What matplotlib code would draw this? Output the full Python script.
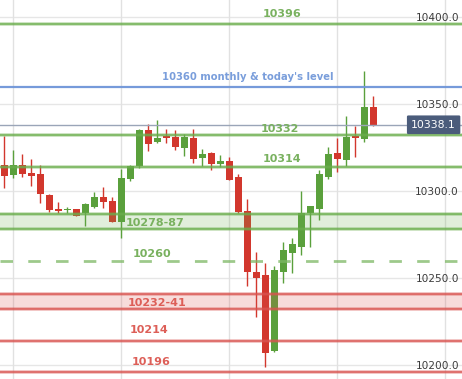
import matplotlib
matplotlib.use("Agg")
import matplotlib.pyplot as plt
from matplotlib.patches import Rectangle

# ---- data ----
opens  = [10314.9, 10309.2, 10314.9, 10310.5, 10309.8, 10297.7, 10289.8, 10288.9, 10289.7, 10287.2,
          10290.8, 10296.6, 10294.3, 10282.4, 10307.1, 10314.4, 10335.1, 10328.2, 10331.8, 10331.0,
          10324.9, 10330.5, 10319.1, 10321.8, 10315.7, 10317.2, 10308.0, 10288.5, 10253.4, 10251.7,
          10208.0, 10253.4, 10264.4, 10267.8, 10287.2, 10289.7, 10308.0, 10321.8, 10318.0, 10331.6,
          10330.1, 10348.3]
highs  = [10331.6, 10323.6, 10321.3, 10318.4, 10314.9, 10298.3, 10293.7, 10290.8, 10289.7, 10293.1,
          10299.4, 10302.1, 10296.4, 10312.5, 10314.9, 10335.6, 10338.5, 10340.8, 10335.6, 10335.1,
          10332.8, 10335.6, 10324.1, 10322.4, 10320.7, 10319.7, 10309.8, 10295.4, 10264.9, 10258.6,
          10256.9, 10270.7, 10273.0, 10300.0, 10291.4, 10312.1, 10325.3, 10330.5, 10343.1, 10337.4,
          10369.0, 10354.6]
lows   = [10301.9, 10307.6, 10308.2, 10303.0, 10293.3, 10288.1, 10287.5, 10287.4, 10285.8, 10279.9,
          10290.1, 10290.4, 10282.4, 10273.2, 10305.9, 10313.0, 10323.0, 10327.8, 10327.8, 10323.6,
          10320.3, 10316.3, 10314.4, 10312.1, 10314.0, 10306.3, 10287.2, 10245.4, 10227.8, 10199.0,
          10207.5, 10247.0, 10253.0, 10263.4, 10268.0, 10283.3, 10307.1, 10311.1, 10314.4, 10319.7,
          10328.2, 10337.2]
closes = [10308.6, 10314.9, 10309.8, 10308.6, 10298.1, 10289.1, 10288.7, 10289.8, 10285.8, 10292.4,
          10296.6, 10293.9, 10282.4, 10307.3, 10314.4, 10335.1, 10327.2, 10330.5, 10330.6, 10325.5,
          10331.0, 10318.4, 10321.3, 10315.7, 10317.2, 10306.3, 10287.9, 10253.4, 10250.0, 10207.1,
          10254.6, 10266.1, 10269.5, 10287.2, 10291.4, 10309.8, 10321.3, 10318.6, 10331.0, 10330.3,
          10348.3, 10338.1]

line_levels = [10396, 10360, 10332, 10314, 10260, 10214, 10196]
line_labels = ["10396", "10360 monthly & today's level", "10332", "10314", "10260", "10214", "10196"]
zones = [(10278, 10287), (10232, 10241)]
zone_labels = ["10278-87", "10232-41"]
yticks = [10200.0, 10250.0, 10300.0, 10350.0, 10400.0]
last_price = 10338.1

# ---- style ----
GREEN = "#6aad4c"
RED = "#d9534f"
BLUE = "#6f95d8"
CUP = "#5aa03c"
CDN = "#d2372d"

W, H = 462, 379
fig = plt.figure(figsize=(W / 100, H / 100), dpi=100)
ax = fig.add_axes([0, 0, 1, 1])
px = 9.0          # pixels per candle
x0 = 4.3          # pixel of first candle
ax.set_xlim(-x0 / px, (W - x0) / px)
ax.set_ylim(10192.0, 10409.8)

def pt(pxl):
    return pxl * 0.72

# grid
for v in yticks:
    ax.axhline(v, color="#e6e6e6", lw=1, zorder=0)
for i in range(1, 51, 12):
    ax.axvline(i, color="#e1e1e1", lw=1, zorder=0)

# candles
for i, (o, h, l, c) in enumerate(zip(opens, highs, lows, closes)):
    col = CUP if c >= o else CDN
    ax.vlines(i, l, h, color=col, lw=1.0, zorder=2)
    lo, hi = min(o, c), max(o, c)
    if hi - lo < 0.8:
        hi = lo + 0.8
    ax.add_patch(Rectangle((i - 0.39, lo), 0.78, hi - lo, facecolor=col, edgecolor="none", zorder=3))

def level_line(v, color, dashed=False):
    if dashed:
        ax.axhline(v, color=color, lw=2.0, alpha=0.75, dashes=(4.5, 5.5), zorder=4)
    else:
        ax.axhline(v, color=color, lw=2.6, alpha=0.4, zorder=4)
        ax.axhline(v, color=color, lw=1.1, alpha=0.9, zorder=4)

# zones
zone_colors = [GREEN, RED]
for (lo, hi), col in zip(zones, zone_colors):
    ax.axhspan(lo, hi, color=col, alpha=0.2, lw=0, zorder=4)
    level_line(lo, col)
    level_line(hi, col)

# level lines
line_colors = [GREEN, BLUE, GREEN, GREEN, GREEN, RED, RED]
for v, col in zip(line_levels, line_colors):
    if v == 10260:
        level_line(v, "#7db865", dashed=True)
    elif v == 10360:
        ax.axhline(v, color=col, lw=1.6, alpha=0.95, zorder=4)
    else:
        level_line(v, col)

# last price line
ax.axhline(last_price, color="#9aa5b8", lw=1.0, zorder=4)

# labels (x in pixels, dy in pixels above level)
lab_x = [282, 248, 280, 282, 151.5, 149, 151]
lab_dy = [10, 10, 6, 7.5, 6.5, 10.5, 10]
lab_fs = [8, 7.2, 8, 8, 8, 8, 8]
lab_col = ["#79b15f", "#7a9edb", "#79b15f", "#79b15f", "#79b15f", "#dd5f58", "#dd5f58"]
for v, t, xx, dy, fs, col in zip(line_levels, line_labels, lab_x, lab_dy, lab_fs, lab_col):
    ax.annotate(t, xy=(xx / W, v), xycoords=("axes fraction", "data"),
                xytext=(0, pt(dy)), textcoords="offset points",
                ha="center", va="center", fontsize=fs, fontweight="bold", color=col, zorder=6)
zone_x = [155, 157]
zone_col = ["#79b15f", "#dd5f58"]
for (lo, hi), t, xx, col in zip(zones, zone_labels, zone_x, zone_col):
    ax.annotate(t, xy=(xx / W, (lo + hi) / 2), xycoords=("axes fraction", "data"),
                xytext=(0, -pt(1)), textcoords="offset points",
                ha="center", va="center", fontsize=8, fontweight="bold", color=col, zorder=6)

# y tick labels inside on the right
ax.set_yticks(yticks)
ax.set_yticklabels([f"{v:.1f}" for v in yticks])
ax.yaxis.tick_right()
ax.tick_params(axis="y", length=0, pad=-pt(3), labelsize=7.6, labelcolor="#3c3c3c")
for lbl in ax.get_yticklabels():
    lbl.set_horizontalalignment("right")
ax.set_xticks([])
for s in ax.spines.values():
    s.set_visible(False)

# price tag
ax.annotate(f"{last_price:.1f}", xy=(456 / W, last_price), xycoords=("axes fraction", "data"),
            ha="right", va="center", fontsize=7.8, color="white", zorder=8,
            bbox=dict(boxstyle="round,pad=0.4,rounding_size=0.12", fc="#4b5c7b", ec="none"))

fig.savefig("out.png", dpi=100)
